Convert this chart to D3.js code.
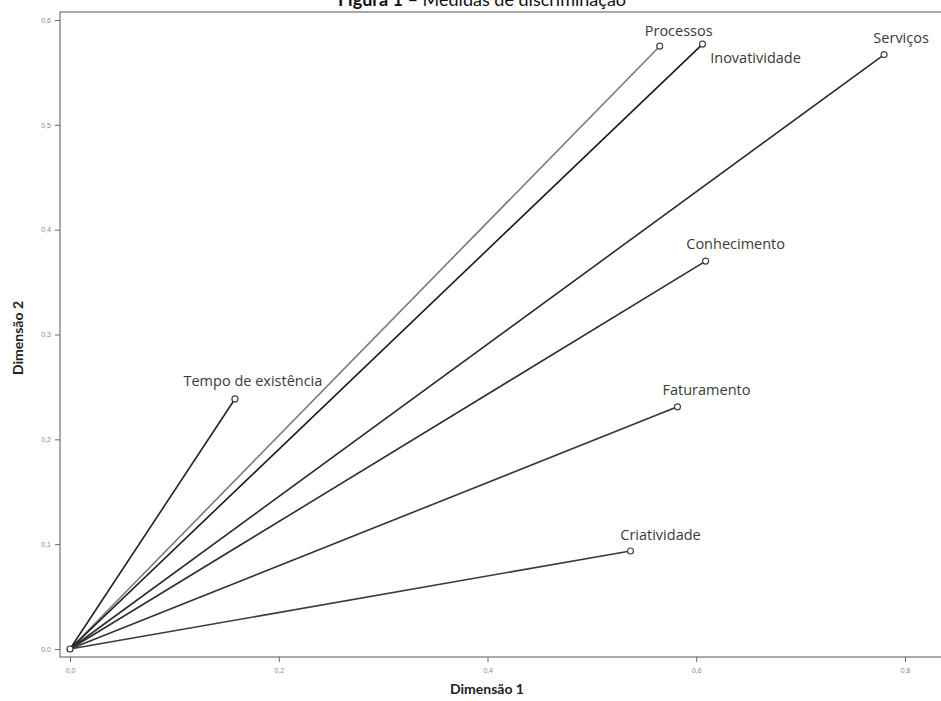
<!DOCTYPE html>
<html>
<head>
<meta charset="utf-8">
<script src="https://cdn.jsdelivr.net/npm/d3@7"></script>
<style>
  body { margin: 0; background: #fff; }
  svg { display: block; }
</style>
</head>
<body>
<div id="chart"></div>
<script>
// discrimination measures, dimension 1 / dimension 2
const variables = ['Processos', 'Inovatividade', 'Serviços', 'Conhecimento', 'Faturamento', 'Criatividade', 'Tempo de existência'];
const dim1 = [0.565, 0.606, 0.780, 0.609, 0.582, 0.537, 0.158];
const dim2 = [0.575, 0.577, 0.567, 0.370, 0.231, 0.0935, 0.2385];
const xTicks = [0, 0.2, 0.4, 0.6, 0.8];
const yTicks = [0, 0.1, 0.2, 0.3, 0.4, 0.5, 0.6];

// label placement relative to the marker (px)
const labelShift = [[19, -10], [53, 19], [17, -12], [30, -12], [29, -12], [30, -11], [18, -13]];
const lineColors = ['#7a7a7a', '#1a1a1a', '#2a2a2a', '#2e2e2e', '#333', '#3a3a3a', '#222'];

const width = 941, height = 701;
const frame = {left: 60, top: 12, right: 960, bottom: 657};

const svg = d3.select('#chart').append('svg')
  .attr('width', width)
  .attr('height', height);

const x = d3.scaleLinear().domain([0, 0.8]).range([70, 905]);
const y = d3.scaleLinear().domain([0, 0.6]).range([649, 20]);
const fmt = d => d3.format('.1f')(d).replace('.', ',');

// title, cut at the top edge as in the source
const title = svg.append('text')
  .attr('x', 482)
  .attr('y', 6)
  .attr('text-anchor', 'middle')
  .style('font-family', 'Lato, "Open Sans", sans-serif')
  .style('font-size', '18px')
  .style('fill', '#111');
title.append('tspan').style('font-weight', 'bold').text('Figura 1');
title.append('tspan').text(' – Medidas de discriminação');

// plot frame
svg.append('rect')
  .attr('x', frame.left)
  .attr('y', frame.top)
  .attr('width', frame.right - frame.left)
  .attr('height', frame.bottom - frame.top)
  .style('fill', 'none')
  .style('stroke', '#8f8f8f')
  .style('stroke-width', 1.5);

// axes
const xAxis = svg.append('g')
  .attr('transform', 'translate(0,' + frame.bottom + ')')
  .call(d3.axisBottom(x).tickValues(xTicks).tickFormat(fmt).tickSize(5).tickSizeOuter(0));
const yAxis = svg.append('g')
  .attr('transform', 'translate(' + frame.left + ',0)')
  .call(d3.axisLeft(y).tickValues(yTicks).tickFormat(fmt).tickSize(5).tickSizeOuter(0));

[xAxis, yAxis].forEach(a => {
  a.select('.domain').remove();
  a.selectAll('line').style('stroke', '#666');
  a.selectAll('text')
    .style('font-family', '"Liberation Sans", Arial, sans-serif')
    .style('font-size', '7px')
    .style('fill', '#8a8a8a');
});
xAxis.selectAll('text').attr('dy', '1.2em');
yAxis.selectAll('text').attr('dx', '-1px');

svg.append('text')
  .attr('x', 487)
  .attr('y', 694)
  .attr('text-anchor', 'middle')
  .style('font-family', 'Lato, "Open Sans", sans-serif')
  .style('font-size', '14px')
  .style('font-weight', 'bold')
  .style('fill', '#222')
  .text('Dimensão 1');

svg.append('text')
  .attr('transform', 'translate(23,338) rotate(-90)')
  .attr('text-anchor', 'middle')
  .style('font-family', 'Lato, "Open Sans", sans-serif')
  .style('font-size', '14px')
  .style('font-weight', 'bold')
  .style('fill', '#222')
  .text('Dimensão 2');

// vectors from the origin
const g = svg.append('g');
variables.forEach((name, i) => {
  g.append('line')
    .attr('x1', x(0))
    .attr('y1', y(0))
    .attr('x2', x(dim1[i]))
    .attr('y2', y(dim2[i]))
    .style('stroke', lineColors[i])
    .style('stroke-width', 1.6);
});

g.append('circle')
  .attr('cx', x(0))
  .attr('cy', y(0))
  .attr('r', 3)
  .style('fill', '#fff')
  .style('stroke', '#333')
  .style('stroke-width', 1.2);

variables.forEach((name, i) => {
  g.append('circle')
    .attr('cx', x(dim1[i]))
    .attr('cy', y(dim2[i]))
    .attr('r', 3)
    .style('fill', '#fff')
    .style('stroke', '#444')
    .style('stroke-width', 1.2);
  g.append('text')
    .attr('x', x(dim1[i]) + labelShift[i][0])
    .attr('y', y(dim2[i]) + labelShift[i][1])
    .attr('text-anchor', 'middle')
    .style('font-family', '"Open Sans", Lato, sans-serif')
    .style('font-size', '14.5px')
    .style('fill', '#3a3a3a')
    .text(name);
});
</script>
</body>
</html>
